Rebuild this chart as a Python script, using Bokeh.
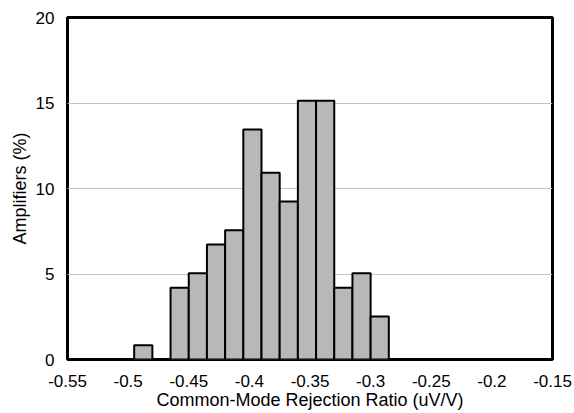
from bokeh.plotting import figure
from bokeh.models import Range1d, FixedTicker
from bokeh.embed import file_html
from bokeh.resources import INLINE

# Histogram bins (uV/V) and share of amplifiers in each bin (%)
bin_left = [-0.495, -0.465, -0.450, -0.435, -0.420, -0.405, -0.390,
            -0.375, -0.360, -0.345, -0.330, -0.315, -0.300]
bin_right = [-0.480, -0.450, -0.435, -0.420, -0.405, -0.390, -0.375,
             -0.360, -0.345, -0.330, -0.315, -0.300, -0.285]
percent = [0.84, 4.20, 5.04, 6.72, 7.56, 13.45, 10.92,
           9.24, 15.13, 15.13, 4.20, 5.04, 2.52]

x_ticks = [-0.55, -0.5, -0.45, -0.4, -0.35, -0.3, -0.25, -0.2, -0.15]
x_tick_labels = ["-0.55", "-0.5", "-0.45", "-0.4", "-0.35", "-0.3", "-0.25", "-0.2", "-0.15"]
y_ticks = [0, 5, 10, 15, 20]

FONT = "Liberation Sans"

p = figure(width=574, height=413, output_backend="svg", toolbar_location=None,
           x_range=Range1d(-0.55, -0.15), y_range=Range1d(0, 20),
           min_border_left=67, min_border_right=22, min_border_top=17,
           min_border_bottom=54)

p.quad(left=bin_left, right=bin_right, top=percent, bottom=0,
       fill_color="#b8b8b8", line_color="black", line_width=2)

p.outline_line_color = "black"
p.outline_line_width = 3
p.background_fill_color = "white"
p.border_fill_color = "white"

p.xgrid.visible = False
p.ygrid.ticker = FixedTicker(ticks=[5, 10, 15])
p.ygrid.grid_line_color = "#c4c4c4"
p.ygrid.grid_line_width = 1

p.xaxis.ticker = FixedTicker(ticks=x_ticks)
p.xaxis.major_label_overrides = {t: l for t, l in zip(x_ticks, x_tick_labels)}
p.yaxis.ticker = FixedTicker(ticks=y_ticks)

for ax in (p.xaxis, p.yaxis):
    ax.axis_line_color = None
    ax.major_tick_line_color = None
    ax.minor_tick_line_color = None
    ax.major_label_text_font = FONT
    ax.major_label_text_font_size = "17px"
    ax.major_label_text_color = "black"
    ax.axis_label_text_font = FONT
    ax.axis_label_text_font_size = "18px"
    ax.axis_label_text_font_style = "normal"
    ax.axis_label_text_color = "black"

p.xaxis.axis_label = "Common-Mode Rejection Ratio (uV/V)"
p.yaxis.axis_label = "Amplifiers (%)"
p.xaxis.major_label_standoff = 9
p.xaxis.axis_label_standoff = 0
p.yaxis.major_label_standoff = 7
p.yaxis.axis_label_standoff = 3

open("out.html", "w").write(file_html(p, INLINE))
